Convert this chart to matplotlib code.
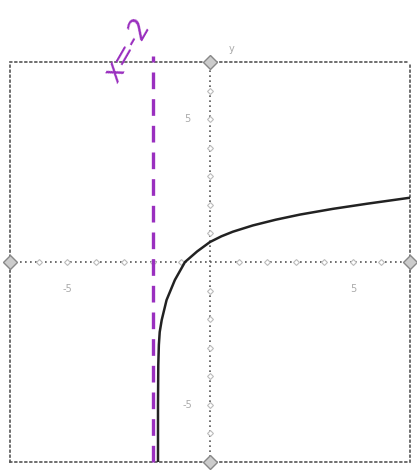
import matplotlib
matplotlib.use("Agg")
import matplotlib.pyplot as plt

# window of the graph
x_min, x_max = -7, 7
y_min, y_max = -7, 7

# curve (y = ln(x + 2))
curve_x = [-1.82, -1.82, -1.81, -1.79, -1.76, -1.69, -1.52, -1.23, -0.875,
           -0.45, 0.0, 0.4, 0.8, 1.5, 2.3, 3.15, 4.3, 5.5, 7.0]
curve_y = [-7.0, -5.0, -3.6, -2.9, -2.45, -2.03, -1.33, -0.63, 0.0,
           0.37, 0.70, 0.90, 1.06, 1.28, 1.48, 1.66, 1.86, 2.04, 2.25]

asymptote_x = -2
asymptote_label = "x=-2"

tick_vals = [-6, -5, -4, -3, -2, -1, 1, 2, 3, 4, 5, 6]
tick_labels = {"x": [(-5, "-5"), (5, "5")], "y": [(5, "5"), (-5, "-5")]}

fig = plt.figure(figsize=(4.17, 4.76), dpi=100)
ax = fig.add_axes([10 / 417, 14 / 476, 400 / 417, 400 / 476])
ax.set_xlim(x_min, x_max)
ax.set_ylim(y_min, y_max)
ax.set_xticks([])
ax.set_yticks([])

grey = "#555555"
for s in ax.spines.values():
    s.set_linestyle((0, (1, 2)))
    s.set_color(grey)
    s.set_linewidth(1.2)

# axes through the origin
ax.axhline(0, color=grey, ls=(0, (1, 2)), lw=1.2)
ax.axvline(0, color=grey, ls=(0, (1, 2)), lw=1.2)

# little tick diamonds on the axes
ax.plot(tick_vals, [0] * len(tick_vals), ls="none", marker="D", ms=3,
        mfc="white", mec="#bbbbbb", mew=0.8)
ax.plot([0] * len(tick_vals), tick_vals, ls="none", marker="D", ms=3,
        mfc="white", mec="#bbbbbb", mew=0.8)

# hatched end markers
ends_x = [0, x_min, 0, x_max]
ends_y = [y_max, 0, y_min, 0]
ax.plot(ends_x, ends_y, ls="none", marker="D", ms=7, mfc="#cccccc",
        mec="#888888", mew=1, clip_on=False, zorder=5)

# faint tick labels
for v, t in tick_labels["x"]:
    ax.text(v, -0.95, t, color="#aaaaaa", fontsize=7, ha="center", va="center")
for v, t in tick_labels["y"]:
    ax.text(-0.8, v, t, color="#aaaaaa", fontsize=7, ha="center", va="center")
ax.text(0.75, 7.45, "y", color="#aaaaaa", fontsize=7, ha="center",
        va="center", clip_on=False)

# asymptote
purple = "#9a2fbf"
ax.plot([asymptote_x, asymptote_x], [y_min, 7.2], color=purple, lw=2.4,
        ls=(0, (5, 3)), zorder=3, clip_on=False)
ax.text(-2.85, 7.4, asymptote_label, color=purple, fontsize=20,
        rotation=60, ha="center", va="center", clip_on=False,
        style="italic")

# the curve
ax.plot(curve_x, curve_y, color="#222222", lw=1.8, zorder=4)

fig.savefig("out.png", dpi=100)
